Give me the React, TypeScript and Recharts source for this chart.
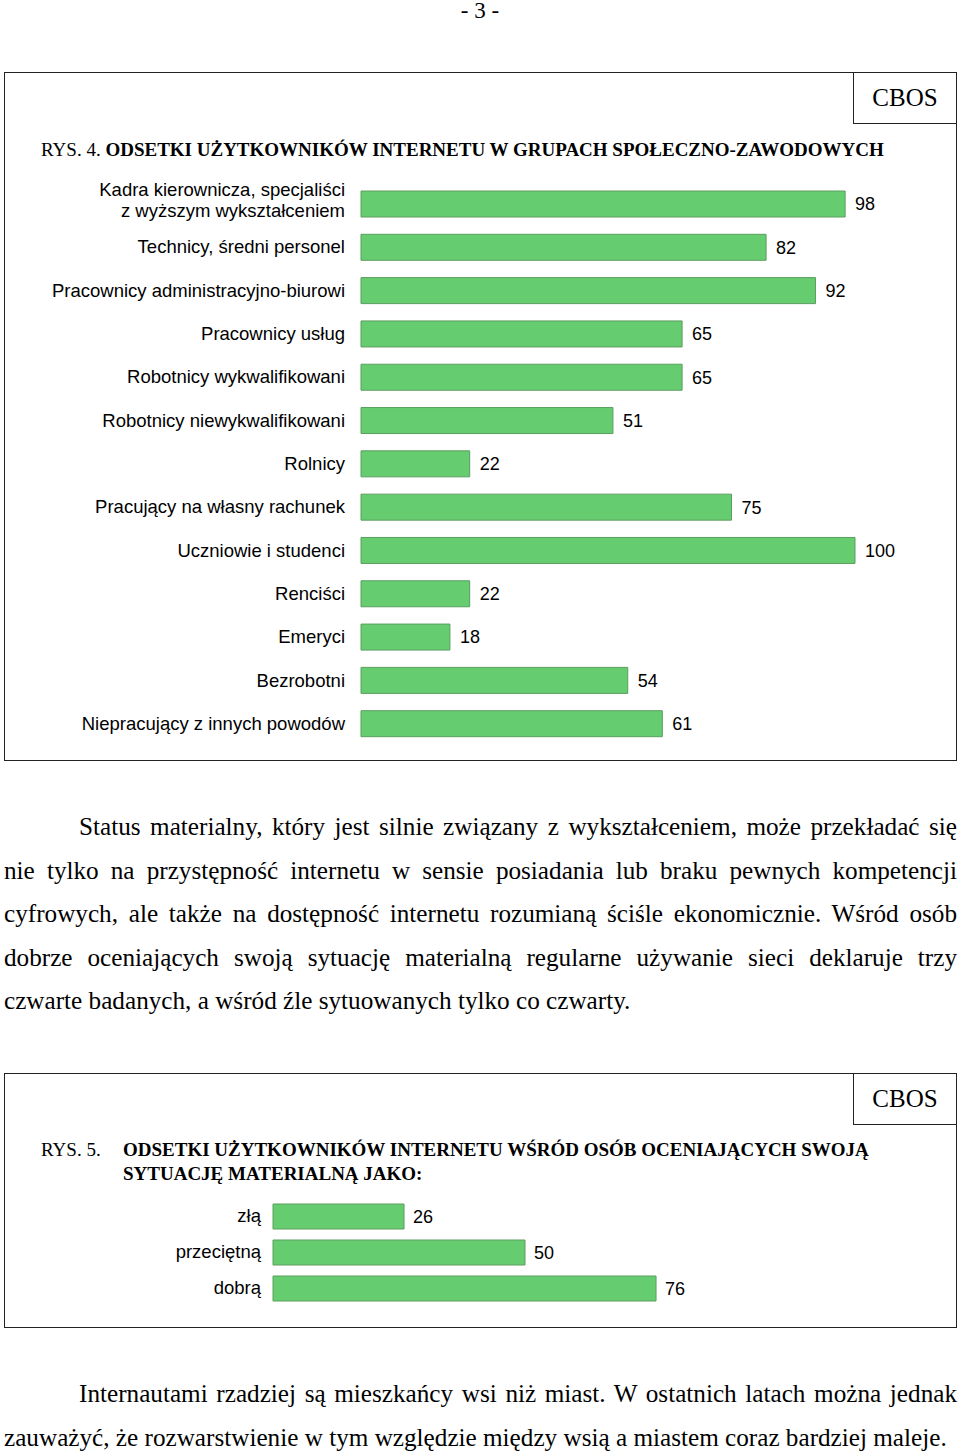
import React from 'react';
import { BarChart, Bar, XAxis, YAxis, LabelList } from 'recharts';

// RYS. 4 - groups and shares of internet users (%)
const groups = [
  'Kadra kierownicza, specjaliści\nz wyższym wykształceniem',
  'Technicy, średni personel',
  'Pracownicy administracyjno-biurowi',
  'Pracownicy usług',
  'Robotnicy wykwalifikowani',
  'Robotnicy niewykwalifikowani',
  'Rolnicy',
  'Pracujący na własny rachunek',
  'Uczniowie i studenci',
  'Renciści',
  'Emeryci',
  'Bezrobotni',
  'Niepracujący z innych powodów',
];
const groupShares = [98, 82, 92, 65, 65, 51, 22, 75, 100, 22, 18, 54, 61];

// RYS. 5 - self-assessed material situation
const ratings = ['złą', 'przeciętną', 'dobrą'];
const ratingShares = [26, 50, 76];

const paragraph1 = [
  'Status materialny, który jest silnie związany z wykształceniem, może przekładać się',
  'nie tylko na przystępność internetu w sensie posiadania lub braku pewnych kompetencji',
  'cyfrowych, ale także na dostępność internetu rozumianą ściśle ekonomicznie. Wśród osób',
  'dobrze oceniających swoją sytuację materialną regularne używanie sieci deklaruje trzy',
  'czwarte badanych, a wśród źle sytuowanych tylko co czwarty.',
];
const paragraph2 = [
  'Internautami rzadziej są mieszkańcy wsi niż miast. W ostatnich latach można jednak',
  'zauważyć, że rozwarstwienie w tym względzie między wsią a miastem coraz bardziej maleje.',
];

const groupData = groups.map((name, i) => ({ name, value: groupShares[i] }));
const ratingData = ratings.map((name, i) => ({ name, value: ratingShares[i] }));

const SANS = '"Liberation Sans", Arial, sans-serif';
const SERIF = '"Liberation Serif", "Times New Roman", serif';
const BAR_FILL = '#66CC70';
const BAR_EDGE = '#5A9E5E';

function LabelTick(props: any) {
  const { x, y, payload } = props;
  const lines = String(payload.value).split('\n');
  const start = lines.length > 1 ? -14 : 0;
  return (
    <text x={x} y={y} textAnchor="end" fontFamily={SANS} fontSize={18.5} fill="#000">
      {lines.map((l, i) => (
        <tspan key={i} x={x} y={y + start + i * 21} dy="0.35em">
          {l}
        </tspan>
      ))}
    </text>
  );
}

function CbosTag({ top }: { top: number }) {
  return (
    <div
      style={{
        position: 'absolute',
        left: 853,
        top,
        width: 104,
        height: 52,
        boxSizing: 'border-box',
        border: '1.5px solid #222',
        fontFamily: SERIF,
        fontSize: 25,
        lineHeight: '50px',
        textAlign: 'center',
        background: '#fff',
      }}
    >
      CBOS
    </div>
  );
}

function TextLines({ lines, top }: { lines: string[]; top: number }) {
  return (
    <div style={{ position: 'absolute', left: 4, top, width: 953, fontFamily: SERIF, fontSize: 25.2, lineHeight: '43.5px', color: '#000' }}>
      {lines.map((l, i) => {
        const last = i === lines.length - 1;
        return (
          <div
            key={i}
            style={{
              textAlign: last ? 'left' : 'justify',
              textAlignLast: last ? 'left' : 'justify',
              paddingLeft: i === 0 ? 75 : 0,
              whiteSpace: 'nowrap',
            }}
          >
            {l}
          </div>
        );
      })}
    </div>
  );
}

export default function App() {
  return (
    <div style={{ position: 'absolute', left: 0, top: 0, width: 960, height: 1452, background: '#fff', overflow: 'hidden' }}>
      <div style={{ position: 'absolute', left: 0, top: 0, width: 960, textAlign: 'center', fontFamily: SERIF, fontSize: 23, lineHeight: '22px' }}>
        - 3 -
      </div>

      {/* Figure 4 */}
      <div style={{ position: 'absolute', left: 4, top: 72, width: 953, height: 689, boxSizing: 'border-box', border: '1.5px solid #222' }} />
      <CbosTag top={72} />
      <div style={{ position: 'absolute', left: 41, top: 138, fontFamily: SERIF, fontSize: 19, lineHeight: '24px', whiteSpace: 'nowrap' }}>
        RYS. 4. <b>ODSETKI UŻYTKOWNIKÓW INTERNETU W GRUPACH SPOŁECZNO-ZAWODOWYCH</b>
      </div>
      <div style={{ position: 'absolute', left: 0, top: 170 }}>
        <BarChart width={960} height={590} layout="vertical" data={groupData} margin={{ top: 12, right: 105, bottom: 15, left: 0 }}>
          <XAxis type="number" domain={[0, 100]} hide />
          <YAxis
            type="category"
            dataKey="name"
            width={361}
            axisLine={false}
            tickLine={false}
            tickSize={0}
            tickMargin={16}
            interval={0}
            tick={<LabelTick />}
          />
          <Bar dataKey="value" fill={BAR_FILL} stroke={BAR_EDGE} strokeWidth={1} barSize={26} isAnimationActive={false}>
            <LabelList dataKey="value" position="right" offset={10} fill="#000" fontSize={18} fontFamily={SANS} />
          </Bar>
        </BarChart>
      </div>

      <TextLines lines={paragraph1} top={805} />

      {/* Figure 5 */}
      <div style={{ position: 'absolute', left: 4, top: 1073, width: 953, height: 255, boxSizing: 'border-box', border: '1.5px solid #222' }} />
      <CbosTag top={1073} />
      <div style={{ position: 'absolute', left: 41, top: 1138, fontFamily: SERIF, fontSize: 19, lineHeight: '24px' }}>RYS. 5.</div>
      <div style={{ position: 'absolute', left: 123, top: 1138, fontFamily: SERIF, fontSize: 19, lineHeight: '24px', fontWeight: 'bold', whiteSpace: 'nowrap' }}>
        ODSETKI UŻYTKOWNIKÓW INTERNETU WŚRÓD OSÓB OCENIAJĄCYCH SWOJĄ
        <br />
        SYTUACJĘ MATERIALNĄ JAKO:
      </div>
      <div style={{ position: 'absolute', left: 0, top: 1190 }}>
        <BarChart width={960} height={125} layout="vertical" data={ratingData} margin={{ top: 8, right: 183, bottom: 9, left: 0 }}>
          <XAxis type="number" domain={[0, 100]} hide />
          <YAxis
            type="category"
            dataKey="name"
            width={273}
            axisLine={false}
            tickLine={false}
            tickSize={0}
            tickMargin={12}
            interval={0}
            tick={<LabelTick />}
          />
          <Bar dataKey="value" fill={BAR_FILL} stroke={BAR_EDGE} strokeWidth={1} barSize={25} isAnimationActive={false}>
            <LabelList dataKey="value" position="right" offset={9} fill="#000" fontSize={18} fontFamily={SANS} />
          </Bar>
        </BarChart>
      </div>

      <TextLines lines={paragraph2} top={1372} />
    </div>
  );
}
